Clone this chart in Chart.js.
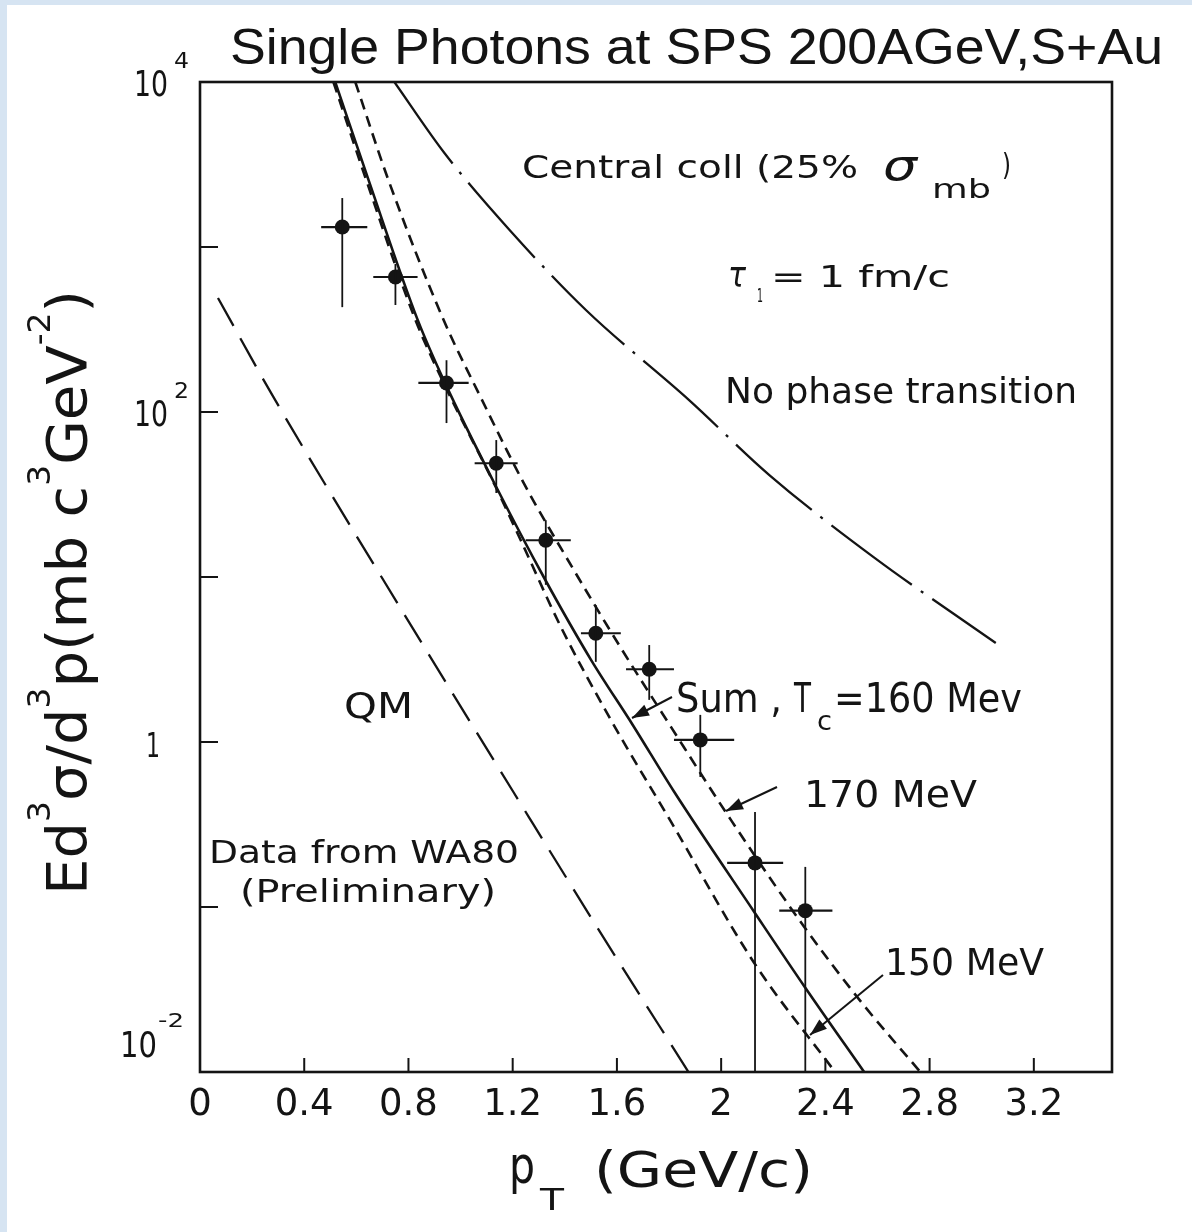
<!DOCTYPE html>
<html>
<head>
<meta charset="utf-8">
<script src="https://cdn.jsdelivr.net/npm/chart.js@4.4.1/dist/chart.umd.min.js"></script>
<style>
html,body{margin:0;padding:0;background:#ffffff;}
canvas{display:block;}
</style>
</head>
<body>
<canvas id="c" width="1192" height="1232"></canvas>
<script>
// ---------- DATA ----------
// WA80 single-photon data points (pT in GeV/c, E d3sigma/d3p)
const dataX = [0.546, 0.750, 0.946, 1.137, 1.327, 1.519, 1.724, 1.920, 2.130, 2.323];
const dataY = [1321, 658, 150, 48.9, 16.7, 4.56, 2.76, 1.03, 0.185, 0.095];
const xLow  = [0.465, 0.665, 0.838, 1.054, 1.250, 1.462, 1.635, 1.819, 2.023, 2.223];
const xHigh = [0.642, 0.835, 1.031, 1.219, 1.423, 1.615, 1.819, 2.050, 2.238, 2.427];
const yLow  = [432, 445, 85.7, 32.3, 8.96, 3.06, 1.80, 0.614, 0, 0];
const yHigh = [1980, 789, 206, 67.6, 22.1, 6.76, 3.87, 1.46, 0.377, 0.175];

// Sum, Tc = 160 MeV (solid)
const sumX = [0.519, 0.646, 0.835, 0.942, 1.142, 1.319, 1.500, 1.662, 1.819, 2.127, 2.319, 2.562];
const sumY = [10000, 2570, 363, 148, 33.9, 10.0, 3.16, 1.26, 0.501, 0.0933, 0.0331, 0.00933];
// 170 MeV (short dash, right)
const tc170X = [0.596, 0.723, 0.935, 1.077, 1.242, 1.435, 1.615, 1.808, 2.038, 2.319, 2.538, 2.762];
const tc170Y = [10000, 2547, 361, 123, 37.2, 11.0, 3.72, 1.23, 0.336, 0.0757, 0.0265, 0.0101];
// 150 MeV (short dash, left)
const tc150X = [0.512, 0.638, 0.827, 0.935, 1.135, 1.231, 1.385, 1.577, 1.804, 2.127, 2.435];
const tc150Y = [10000, 2547, 361, 150, 35.1, 16.7, 4.98, 1.36, 0.336, 0.0458, 0.0101];
// No phase transition (dash-dot)
const noPtX = [0.746, 0.938, 1.188, 1.481, 1.877, 2.185, 2.585, 3.054];
const noPtY = [10000, 3715, 1268, 415, 118, 41.5, 13.2, 3.98];
// QM (long dash)
const qmX = [0.069, 0.277, 0.769, 1.262, 1.538, 1.873];
const qmY = [491, 127, 6.49, 0.351, 0.0695, 0.0101];

// Axis ticks
const xTickValues = [0, 0.4, 0.8, 1.2, 1.6, 2.0, 2.4, 2.8, 3.2];
const xTickLabels = ['0', '0.4', '0.8', '1.2', '1.6', '2', '2.4', '2.8', '3.2'];
const yTickValues = [0.01, 0.1, 1, 10, 100, 1000, 10000];
const yLabelValues = [10000, 100, 1, 0.01];
const yLabelBase = ['10', '10', '1', '10'];
const yLabelExp = ['4', '2', '', '-2'];

// ---------- drawing helpers ----------
const INK = '#141414';
const FONT = '"DejaVu Sans", "Liberation Sans", sans-serif';
const TFONT = '"Liberation Sans", Arial, sans-serif';

function pts(xs, ys) { return xs.map((x, i) => ({x: x, y: ys[i]})); }

function drawText(ctx, t, x, y, size, w, opt) {
  opt = opt || {};
  ctx.save();
  ctx.font = (opt.italic ? 'italic ' : '') + size + 'px ' + (opt.family || FONT);
  ctx.textBaseline = 'alphabetic';
  ctx.textAlign = 'left';
  ctx.fillStyle = INK;
  const nat = ctx.measureText(t).width;
  const sx = w ? w / nat : 1;
  ctx.translate(x, y);
  ctx.scale(sx, 1);
  ctx.fillText(t, 0, 0);
  ctx.restore();
}

function drawRich(ctx, segs, x, y, total, rot) {
  ctx.save();
  ctx.translate(x, y);
  if (rot) ctx.rotate(rot);
  ctx.fillStyle = INK;
  ctx.textBaseline = 'alphabetic';
  ctx.textAlign = 'left';
  let nat = 0;
  const ws = segs.map(s => { ctx.font = s.s + 'px ' + FONT; const w = ctx.measureText(s.t).width; nat += w; return w; });
  ctx.scale(total / nat, 1);
  let cx = 0;
  segs.forEach((s, i) => { ctx.font = s.s + 'px ' + FONT; ctx.fillText(s.t, cx, s.dy || 0); cx += ws[i]; });
  ctx.restore();
}

function arrow(ctx, x1, y1, x2, y2) {
  ctx.save();
  ctx.strokeStyle = INK; ctx.fillStyle = INK; ctx.lineWidth = 2;
  ctx.beginPath(); ctx.moveTo(x1, y1); ctx.lineTo(x2, y2); ctx.stroke();
  const a = Math.atan2(y2 - y1, x2 - x1), L = 17, H = 6;
  ctx.beginPath();
  ctx.moveTo(x2, y2);
  ctx.lineTo(x2 - L * Math.cos(a) + H * Math.sin(a), y2 - L * Math.sin(a) - H * Math.cos(a));
  ctx.lineTo(x2 - L * Math.cos(a) - H * Math.sin(a), y2 - L * Math.sin(a) + H * Math.cos(a));
  ctx.closePath(); ctx.fill();
  ctx.restore();
}

const bgPlugin = {
  id: 'bg',
  beforeDraw(chart) {
    const c = chart.ctx;
    c.save();
    c.fillStyle = '#d6e4f2';
    c.fillRect(0, 0, chart.width, chart.height);
    c.fillStyle = '#ffffff';
    c.fillRect(7, 5, chart.width - 7, chart.height - 5);
    c.restore();
  }
};

const framePlugin = {
  id: 'frame',
  afterDatasetsDraw(chart) {
    const c = chart.ctx, a = chart.chartArea;
    const xs = chart.scales.x, ys = chart.scales.y;
    // error bars
    c.save();
    c.beginPath(); c.rect(a.left, a.top, a.right - a.left, a.bottom - a.top); c.clip();
    c.strokeStyle = INK;
    for (let i = 0; i < dataX.length; i++) {
      const px = xs.getPixelForValue(dataX[i]);
      const py = ys.getPixelForValue(dataY[i]);
      c.lineWidth = 2.2;
      c.beginPath();
      c.moveTo(xs.getPixelForValue(xLow[i]), py);
      c.lineTo(xs.getPixelForValue(xHigh[i]), py);
      c.stroke();
      c.lineWidth = 1.8;
      const yl = yLow[i] > 0 ? ys.getPixelForValue(yLow[i]) : a.bottom;
      c.beginPath();
      c.moveTo(px, ys.getPixelForValue(yHigh[i]));
      c.lineTo(px, yl);
      c.stroke();
    }
    c.restore();
  },
  afterDraw(chart) {
    const c = chart.ctx, a = chart.chartArea;
    const xs = chart.scales.x, ys = chart.scales.y;
    c.save();
    c.strokeStyle = INK;
    c.lineWidth = 2.6;
    c.strokeRect(a.left, a.top, a.right - a.left, a.bottom - a.top);
    // inward tick marks
    c.lineWidth = 2;
    xs.ticks.forEach(t => {
      if (t.value <= 0) return;
      const p = xs.getPixelForValue(t.value);
      c.beginPath(); c.moveTo(p, a.bottom); c.lineTo(p, a.bottom - 14); c.stroke();
    });
    ys.ticks.forEach(t => {
      const p = ys.getPixelForValue(t.value);
      if (p <= a.top + 1 || p >= a.bottom - 1) return;
      c.beginPath(); c.moveTo(a.left, p); c.lineTo(a.left + 18, p); c.stroke();
    });
    c.restore();

    // y tick labels with superscripts
    yLabelValues.forEach((v, i) => {
      const p = ys.getPixelForValue(v);
      if (yLabelExp[i] === '') {
        drawText(c, yLabelBase[i], 146, p + 15, 34, 14);
      } else if (v < 0.05) {
        drawText(c, yLabelBase[i], 120, p - 15, 36, 37);
        drawText(c, yLabelExp[i], 158, p - 45, 20, 26);
      } else {
        drawText(c, yLabelBase[i], 134, p + 14, 36, 34);
        drawText(c, yLabelExp[i], 174, p - 14, 21, 15);
      }
    });

    // title
    drawText(c, 'Single Photons at SPS 200AGeV,S+Au', 230, 64, 50, 933, {family: TFONT});

    // y axis title (rotated)
    drawRich(c, [
      {t: 'Ed', s: 56}, {t: '3', s: 32, dy: -36}, {t: 'σ/d', s: 56}, {t: '3', s: 32, dy: -36},
      {t: 'p(mb c', s: 56}, {t: '3', s: 32, dy: -36}, {t: 'GeV', s: 56}, {t: '-2', s: 32, dy: -36}, {t: ')', s: 56}
    ], 86, 895, 605, -Math.PI / 2);

    // x axis title
    drawText(c, 'p', 509, 1183, 52, 26);
    drawText(c, 'T', 540, 1210, 30, 24);
    drawText(c, '(GeV/c)', 594, 1187, 50, 219);

    // annotations
    drawText(c, 'Central coll (25%', 522, 178, 32, 336);
    drawText(c, 'σ', 883, 180, 42, 34, {italic: true});
    drawText(c, 'mb', 932, 198, 26, 59);
    drawText(c, ')', 1002, 175, 30, 9);

    drawText(c, 'τ', 728, 287, 36, 18, {italic: true});
    drawText(c, '1', 757, 302, 20, 6);
    drawText(c, '= 1 fm/c', 771, 287, 30, 179);

    drawText(c, 'No phase transition', 725, 403, 36, 352);
    drawText(c, 'QM', 344, 718, 36, 69);

    drawText(c, 'Sum ,', 676, 712, 40, 106);
    drawText(c, 'T', 794, 712, 40, 17);
    drawText(c, 'c', 817, 730, 26, 15);
    drawText(c, '=160 Mev', 834, 712, 40, 188);

    drawText(c, '170 MeV', 804, 807, 38, 173);
    drawText(c, '150 MeV', 885, 975, 37, 159);

    drawText(c, 'Data from WA80', 209, 863, 32, 310);
    drawText(c, '(Preliminary)', 240, 902, 32, 256);

    arrow(c, 672, 697, 632, 718);
    arrow(c, 777, 787, 726, 811);
    arrow(c, 883, 975, 810, 1035);
  }
};

const lineBase = {showLine: true, pointRadius: 0, borderColor: INK, backgroundColor: INK, fill: false, cubicInterpolationMode: 'monotone'};

new Chart(document.getElementById('c'), {
  type: 'scatter',
  data: {
    datasets: [
      {label: 'WA80 data', data: pts(dataX, dataY), showLine: false, pointRadius: 7.5,
        pointBackgroundColor: INK, pointBorderColor: INK, pointBorderWidth: 0},
      Object.assign({}, lineBase, {label: 'Sum, Tc=160 MeV', data: pts(sumX, sumY), borderWidth: 2.6}),
      Object.assign({}, lineBase, {label: '170 MeV', data: pts(tc170X, tc170Y), borderWidth: 2.6, borderDash: [11, 7]}),
      Object.assign({}, lineBase, {label: '150 MeV', data: pts(tc150X, tc150Y), borderWidth: 2.6, borderDash: [11, 7]}),
      Object.assign({}, lineBase, {label: 'No phase transition', data: pts(noPtX, noPtY), borderWidth: 2.3, borderDash: [100, 11, 3, 11]}),
      Object.assign({}, lineBase, {label: 'QM', data: pts(qmX, qmY), borderWidth: 2.3, borderDash: [32, 14]})
    ]
  },
  options: {
    responsive: false,
    animation: false,
    devicePixelRatio: 1,
    layout: {padding: {left: 0, right: 80, top: 82, bottom: 0}},
    plugins: {legend: {display: false}, tooltip: {enabled: false}, title: {display: false}},
    scales: {
      x: {
        type: 'linear', position: 'bottom', min: 0, max: 3.5,
        grid: {display: false, drawTicks: false},
        border: {display: false},
        afterBuildTicks: s => { s.ticks = xTickValues.map(v => ({value: v})); },
        afterFit: s => { s.height = 160; },
        ticks: {
          color: INK, padding: 11, maxRotation: 0, autoSkip: false,
          font: {family: FONT, size: 37},
          callback: (v, i) => xTickLabels[i]
        }
      },
      y: {
        type: 'logarithmic', position: 'left', min: 0.01, max: 10000,
        grid: {display: false, drawTicks: false},
        border: {display: false},
        afterBuildTicks: s => { s.ticks = yTickValues.map(v => ({value: v})); },
        afterFit: s => { s.width = 200; },
        ticks: {display: false}
      }
    }
  },
  plugins: [bgPlugin, framePlugin]
});
</script>
</body>
</html>
